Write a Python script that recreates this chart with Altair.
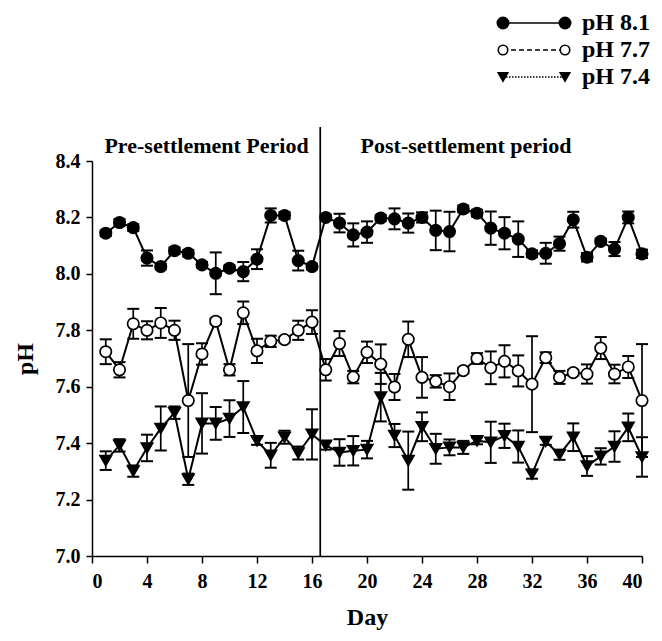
import altair as alt
import pandas as pd

days = list(range(1, 41))
series_names = ["pH 8.1", "pH 7.7", "pH 7.4"]

ph81 = [8.144, 8.182, 8.164, 8.056, 8.026, 8.082, 8.073, 8.032, 8.002, 8.020,
        8.008, 8.052, 8.207, 8.207, 8.047, 8.026, 8.200, 8.180, 8.138, 8.148,
        8.198, 8.195, 8.180, 8.200, 8.154, 8.150, 8.230, 8.215, 8.162, 8.144,
        8.123, 8.071, 8.073, 8.107, 8.192, 8.059, 8.115, 8.088, 8.200, 8.071]
err81 = [0.010, 0.012, 0.012, 0.027, 0.010, 0.012, 0.012, 0.010, 0.074, 0.010,
         0.034, 0.035, 0.025, 0.012, 0.035, 0.010, 0.010, 0.033, 0.041, 0.038,
         0.010, 0.037, 0.034, 0.018, 0.070, 0.070, 0.012, 0.012, 0.059, 0.057,
         0.063, 0.012, 0.037, 0.025, 0.028, 0.015, 0.010, 0.025, 0.021, 0.015]

ph77 = [7.724, 7.660, 7.823, 7.800, 7.826, 7.800, 7.551, 7.716, 7.832, 7.660,
        7.862, 7.727, 7.761, 7.767, 7.800, 7.829, 7.660, 7.753, 7.634, 7.722,
        7.680, 7.599, 7.768, 7.633, 7.619, 7.600, 7.657, 7.700, 7.667, 7.690,
        7.656, 7.609, 7.703, 7.633, 7.650, 7.645, 7.737, 7.645, 7.670, 7.551]
err77 = [0.044, 0.027, 0.053, 0.032, 0.053, 0.034, 0.200, 0.038, 0.010, 0.020,
         0.040, 0.043, 0.020, 0.010, 0.034, 0.042, 0.038, 0.044, 0.022, 0.038,
         0.070, 0.046, 0.063, 0.072, 0.022, 0.047, 0.010, 0.019, 0.058, 0.057,
         0.055, 0.170, 0.019, 0.023, 0.010, 0.034, 0.039, 0.033, 0.039, 0.200]

ph74 = [7.338, 7.392, 7.301, 7.383, 7.452, 7.508, 7.272, 7.470, 7.470, 7.487,
        7.528, 7.408, 7.357, 7.421, 7.365, 7.431, 7.392, 7.367, 7.373, 7.377,
        7.563, 7.427, 7.338, 7.458, 7.380, 7.385, 7.385, 7.408, 7.403, 7.426,
        7.388, 7.290, 7.406, 7.359, 7.421, 7.319, 7.353, 7.388, 7.456, 7.351]
err74 = [0.033, 0.022, 0.020, 0.047, 0.078, 0.022, 0.020, 0.107, 0.058, 0.065,
         0.092, 0.014, 0.044, 0.023, 0.023, 0.089, 0.015, 0.047, 0.052, 0.031,
         0.086, 0.041, 0.103, 0.051, 0.053, 0.028, 0.023, 0.012, 0.073, 0.043,
         0.057, 0.016, 0.012, 0.018, 0.049, 0.035, 0.029, 0.054, 0.049, 0.070]

x_ticks = list(range(0, 41, 4))
y_ticks = [7.0, 7.2, 7.4, 7.6, 7.8, 8.0, 8.2, 8.4]
settlement_day = 16.6
period_labels = ["Pre-settlement Period", "Post-settlement period"]
period_centers = [8.33, 27.2]

FONT = "Liberation Serif"

rows = []
for name, vals, errs in zip(series_names, [ph81, ph77, ph74], [err81, err77, err74]):
    for d, v, e in zip(days, vals, errs):
        rows.append({"day": d, "ph": v, "lo": v - e, "hi": v + e, "series": name})
df = pd.DataFrame(rows)

W, H = 550, 395

xs = alt.Scale(domain=[0, 40], nice=False)
ys = alt.Scale(domain=[7.0, 8.4], nice=False, zero=False)

x_enc = alt.X("day:Q", scale=xs, axis=alt.Axis(
    values=x_ticks, title="Day", format="d", grid=False,
    labelFont=FONT, labelFontSize=20, labelFontWeight="bold", labelColor="black",
    titleFont=FONT, titleFontSize=24, titleFontWeight="bold", titleColor="black",
    tickSize=7, tickWidth=1.5, tickColor="black", domainColor="black", domainWidth=1.5,
    labelPadding=8, titlePadding=14))
y_enc = alt.Y("ph:Q", scale=ys, axis=alt.Axis(
    values=y_ticks, title="pH", format=".1f", grid=False,
    labelFont=FONT, labelFontSize=20, labelFontWeight="bold", labelColor="black",
    titleFont=FONT, titleFontSize=24, titleFontWeight="bold", titleColor="black",
    tickSize=6, tickWidth=1.5, tickColor="black", domainColor="black", domainWidth=1.5,
    labelPadding=6, titlePadding=18))

base = alt.Chart(df)

err_rule = base.mark_rule(color="black", strokeWidth=1.7).encode(
    x=alt.X("day:Q", scale=xs), y=alt.Y("lo:Q", scale=ys), y2="hi:Q")
cap_lo = base.mark_tick(orient="horizontal", color="black", size=12, thickness=2, opacity=1).encode(
    x=alt.X("day:Q", scale=xs), y=alt.Y("lo:Q", scale=ys))
cap_hi = base.mark_tick(orient="horizontal", color="black", size=12, thickness=2, opacity=1).encode(
    x=alt.X("day:Q", scale=xs), y=alt.Y("hi:Q", scale=ys))

lines = base.mark_line(color="black", strokeWidth=2).encode(
    x=x_enc, y=y_enc, detail="series:N")

pts = base.mark_point(filled=True, size=130, opacity=1, strokeWidth=1.7).encode(
    x=alt.X("day:Q", scale=xs), y=alt.Y("ph:Q", scale=ys),
    shape=alt.Shape("series:N", scale=alt.Scale(domain=series_names,
                    range=["circle", "circle", "triangle-down"]), legend=None),
    fill=alt.Fill("series:N", scale=alt.Scale(domain=series_names,
                  range=["black", "white", "black"]), legend=None),
    stroke=alt.value("black"))

vline = alt.Chart(pd.DataFrame({"d": [settlement_day]})).mark_rule(
    color="black", strokeWidth=1.7).encode(
    x=alt.X("d:Q", scale=xs), y=alt.value(-34), y2=alt.value(H))

ptext = alt.Chart(pd.DataFrame({"d": period_centers, "t": period_labels})).mark_text(
    font=FONT, fontSize=22, fontWeight="bold", color="black", baseline="middle", align="center").encode(
    x=alt.X("d:Q", scale=xs), y=alt.value(-15), text="t:N")

# legend (top right, outside the plot)
leg_rows = [-138, -111, -84]
leg_dash = [[1, 0], [5, 3], [1.5, 1.5]]
leg_shape = ["circle", "circle", "triangle-down"]
leg_fill = ["black", "white", "black"]
leg_size = [130, 90, 90]
leg_layers = []
for i, name in enumerate(series_names):
    yy = leg_rows[i]
    one = pd.DataFrame({"k": [0]})
    leg_layers.append(alt.Chart(one).mark_rule(color="black", strokeWidth=1.5, strokeDash=leg_dash[i]).encode(
        x=alt.value(411), x2=alt.value(473), y=alt.value(yy)))
    for xx in [411, 473]:
        leg_layers.append(alt.Chart(one).mark_point(shape=leg_shape[i], filled=True, fill=leg_fill[i],
                                                    stroke="black", strokeWidth=1.6, size=leg_size[i], opacity=1).encode(
            x=alt.value(xx), y=alt.value(yy)))
    leg_layers.append(alt.Chart(one).mark_text(font=FONT, fontSize=24, fontWeight="bold", color="black",
                                               align="left", baseline="middle", text=name).encode(
        x=alt.value(490), y=alt.value(yy)))

chart = alt.layer(lines, err_rule, cap_lo, cap_hi, pts, vline, ptext, *leg_layers).properties(
    width=W, height=H,
    autosize=alt.AutoSizeParams(type="none"),
    padding={"left": 84, "top": 153, "right": 12, "bottom": 80},
).configure_view(stroke=None)

chart.save("out.html", embed_options={"renderer": "svg", "actions": False})
